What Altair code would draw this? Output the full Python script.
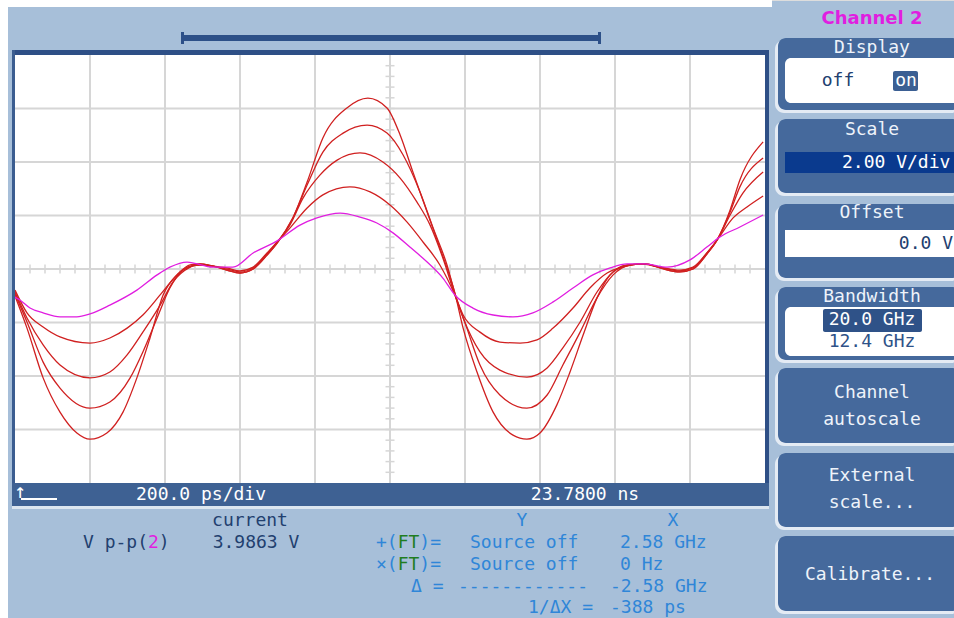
import altair as alt
import pandas as pd

# ---------------- data (time in ps from screen centre, volts) --------
T_CH2 = [-1000, -987, -960, -925, -880, -835, -800, -747, -675, -621, -587, -541, -472, -419, -365,
         -301, -240, -195, -133, -80, -35, 8, 53, 99, 141, 173, 221, 275, 328, 381, 435, 488, 541,
         587, 632, 680, 739, 800, 845, 880, 933, 995]
V_CH2 = [-1.05, -1.16, -1.46, -1.64, -1.79, -1.79, -1.68, -1.35, -0.79, -0.22, 0.07, 0.26, 0.07, 0.07,
         0.60, 1.05, 1.64, 1.91, 2.09, 1.94, 1.72, 1.35, 0.82, 0.26, -0.34, -0.97, -1.46, -1.72, -1.79,
         -1.64, -1.23, -0.71, -0.22, 0.04, 0.19, 0.19, 0.07, 0.34, 0.82, 1.20, 1.57, 2.02]

T_R1 = [-1000, -968, -925, -880, -800, -747, -701, -659, -613, -568, -533, -507, -472, -435, -400, -365,
        -328, -301, -267, -221, -179, -107, -53, 0, 45, 88, 133, 173, 195, 240, 293, 347, 392, 435, 488,
        533, 579, 621, 667, 720, 773, 808, 845, 872, 915, 952, 995]
V_R1 = [-0.79, -1.64, -2.17, -2.54, -2.77, -2.58, -2.21, -1.72, -0.97, -0.22, 0.15, 0.19, 0.11, 0.04,
        -0.07, 0.07, 0.60, 1.01, 1.53, 2.28, 2.77, 3.07, 2.88, 2.39, 1.76, 1.01, 0.15, -0.97, -1.72,
        -2.36, -2.73, -2.77, -2.65, -2.21, -1.46, -0.71, -0.15, 0.07, 0.19, 0.07, -0.04, 0.07, 0.60,
        1.08, 1.91, 2.32, 2.73]

T_R2 = [-1000, -968, -925, -880, -800, -747, -701, -659, -613, -579, -533, -507, -472, -435, -400, -365,
        -328, -301, -267, -232, -187, -141, -80, -19, 27, 72, 107, 141, 173, 195, 240, 293, 365, 419,
        461, 507, 552, 595, 640, 680, 720, 773, 808, 845, 872, 907, 941, 995]
V_R2 = [-0.86, -1.83, -2.84, -3.59, -4.07, -3.85, -3.21, -2.36, -1.35, -0.49, 0.07, 0.19, 0.11, 0.0,
        -0.11, 0.04, 0.56, 1.01, 1.64, 2.65, 3.51, 4.07, 4.34, 4.00, 3.40, 2.50, 1.64, 0.41, -0.97,
        -1.83, -3.10, -3.78, -4.04, -3.70, -2.95, -1.98, -0.86, -0.11, 0.15, 0.19, 0.07, -0.07, 0.04,
        0.60, 1.08, 2.02, 2.84, 3.63]

T_R3 = [-1000, -968, -925, -880, -800, -747, -693, -659, -621, -587, -552, -507, -472, -435, -400, -365,
        -328, -301, -259, -221, -179, -125, -61, -8, 35, 80, 115, 152, 173, 205, 240, 293, 365, 419,
        461, 507, 552, 595, 640, 680, 720, 773, 808, 845, 872, 907, 933, 995]
V_R3 = [-0.93, -1.98, -3.48, -4.45, -5.20, -4.97, -4.07, -3.10, -1.83, -0.71, -0.04, 0.15, 0.11, -0.04,
        -0.15, 0.0, 0.52, 0.97, 1.91, 3.14, 4.37, 5.08, 5.38, 5.08, 4.26, 2.88, 1.53, 0.15, -0.90,
        -2.21, -3.59, -4.71, -5.20, -4.71, -3.59, -2.36, -1.08, -0.22, 0.15, 0.19, 0.04, -0.11, 0.0,
        0.56, 1.08, 2.13, 3.07, 4.15]

T_R4 = [-1000, -968, -925, -880, -835, -800, -755, -712, -675, -640, -605, -568, -533, -507, -472, -435,
        -400, -365, -328, -301, -259, -221, -179, -115, -59, -8, 27, 61, 99, 133, 173, 195, 232, 275,
        328, 365, 400, 445, 480, 515, 552, 587, 632, 680, 720, 773, 808, 845, 872, 907, 933, 995]
V_R4 = [-1.01, -2.21, -4.07, -5.35, -6.13, -6.36, -6.13, -5.35, -4.07, -2.58, -0.97, -0.22, 0.11, 0.15,
        0.11, -0.04, -0.15, 0.0, 0.52, 0.97, 1.91, 3.25, 4.90, 6.02, 6.39, 6.02, 5.01, 3.63, 2.13, 0.79,
        -0.90, -2.21, -3.85, -5.35, -6.21, -6.36, -6.13, -5.08, -3.85, -2.47, -1.08, -0.22, 0.15, 0.19,
        0.04, -0.11, 0.0, 0.56, 1.08, 2.21, 3.33, 4.75]

GRID_T = [-800, -600, -400, -200, 0, 200, 400, 600, 800]      # ps (200 ps/div)
GRID_V = [-6, -4, -2, 0, 2, 4, 6]                             # V (2.00 V/div)
MINOR_T = [t for t in range(-960, 1000, 40)]
MINOR_V = [round(-7.6 + 0.4 * i, 2) for i in range(39)]

BUTTONS = ["Display", "Scale", "Offset", "Bandwidth", ["Channel", "autoscale"],
           ["External", "scale..."], "Calibrate..."]

# ---------------- styles -------------------------------------------------------------------
MONO = "DejaVu Sans Mono"
BG = "#a7bfd9"
NAVY = "#2e4f86"
BAR = "#3e6193"
BTN = "#45699c"
BTN_TXT = "#eef3fa"
DARK_TXT = "#22406f"
CUR_TXT = "#2f86d8"
GREEN = "#1f7d1f"
MAGENTA = "#e01ee0"
RED = "#d02020"
GRID = "#d6d6d6"
FS = 18
CW = 0.602 * FS

xs = alt.Scale(domain=[-1000, 1000], range=[15, 765], nice=False, zero=False)
ys = alt.Scale(domain=[-8, 8], range=[483, 55], nice=False, zero=False)

one = pd.DataFrame({"k": [0]})


def box(x, x2, y, y2, color, r=0):
    return alt.Chart(one).mark_rect(color=color, cornerRadius=r).encode(
        x=alt.value(x), x2=alt.value(x2), y=alt.value(y), y2=alt.value(y2))


def txt(s, x, y, color, size=FS, align="center", weight="normal", font=MONO):
    return alt.Chart(one).mark_text(align=align, baseline="middle", font=font, fontSize=size,
                                    fontWeight=weight, color=color).encode(
        x=alt.value(x), y=alt.value(y), text=alt.value(s))


layers = []
# screen background
layers += [box(0, 772, 0, 7, "white"), box(0, 8, 0, 618, "white")]
# plot area
layers.append(box(15, 765, 55, 483, "white"))

gv = pd.DataFrame({"t": GRID_T, "lo": -8, "hi": 8})
gh = pd.DataFrame({"v": GRID_V, "lo": -1000, "hi": 1000})
layers.append(alt.Chart(gv).mark_rule(color=GRID, strokeWidth=2).encode(
    x=alt.X("t:Q", scale=xs, axis=None), y=alt.Y("lo:Q", scale=ys, axis=None), y2="hi:Q"))
layers.append(alt.Chart(gh).mark_rule(color=GRID, strokeWidth=2).encode(
    y=alt.Y("v:Q", scale=ys, axis=None), x=alt.X("lo:Q", scale=xs, axis=None), x2="hi:Q"))
mt = pd.DataFrame({"t": MINOR_T, "lo": -0.17, "hi": 0.17})
mv = pd.DataFrame({"v": MINOR_V, "lo": -12, "hi": 12})
layers.append(alt.Chart(mt).mark_rule(color=GRID, strokeWidth=1.5).encode(
    x=alt.X("t:Q", scale=xs, axis=None), y=alt.Y("lo:Q", scale=ys, axis=None), y2="hi:Q"))
layers.append(alt.Chart(mv).mark_rule(color=GRID, strokeWidth=1.5).encode(
    y=alt.Y("v:Q", scale=ys, axis=None), x=alt.X("lo:Q", scale=xs, axis=None), x2="hi:Q"))

# traces
assert len(T_R1) == len(V_R1) and len(T_R2) == len(V_R2)
assert len(T_R3) == len(V_R3) and len(T_R4) == len(V_R4) and len(T_CH2) == len(V_CH2)
red = pd.concat([pd.DataFrame({"t": T, "v": V, "trace": name}) for T, V, name in
                 [(T_R1, V_R1, "r1"), (T_R2, V_R2, "r2"), (T_R3, V_R3, "r3"), (T_R4, V_R4, "r4")]])
mag = pd.DataFrame({"t": T_CH2, "v": V_CH2, "trace": "ch2"})
layers.append(alt.Chart(red).mark_line(color=RED, strokeWidth=1.3, interpolate="monotone").encode(
    x=alt.X("t:Q", scale=xs, axis=None), y=alt.Y("v:Q", scale=ys, axis=None), detail="trace:N"))
layers.append(alt.Chart(mag).mark_line(color=MAGENTA, strokeWidth=1.3, interpolate="monotone").encode(
    x=alt.X("t:Q", scale=xs, axis=None), y=alt.Y("v:Q", scale=ys, axis=None)))

# frame, scroll bar and bottom bar
layers += [
    box(12, 769, 50, 55, NAVY), box(12, 15, 50, 506, "#3b5d90"), box(765, 769, 50, 506, NAVY),
    box(12, 769, 483, 506, BAR), box(12, 769, 506, 509, "#dce6f0"),
    box(182, 600, 35, 41, "#2d5088"), box(181, 184, 32, 44, "#2d5088"), box(598, 601, 32, 44, "#2d5088"),
    box(21, 57, 498, 500, "white"),
]
layers += [
    txt("↑", 20, 492, "white", size=20),
    txt("200.0 ps/div", 201, 495, "white"),
    txt("23.7800 ns", 585, 495, "white"),
]

# measurement area
x0 = 83
layers += [
    txt("current", 250, 521, DARK_TXT),
    txt("V p-p(", x0, 543, DARK_TXT, align="left"),
    txt("2", x0 + 6 * CW, 543, MAGENTA, align="left"),
    txt(")", x0 + 7 * CW, 543, DARK_TXT, align="left"),
    txt("3.9863 V", 256, 543, DARK_TXT),
    txt("Y", 522, 521, CUR_TXT), txt("X", 673, 521, CUR_TXT),
]
for row_y, sym, ytext, xtext in [(543, "+", "Source off", "2.58 GHz"), (565, "×", "Source off", "0 Hz")]:
    c0 = 376
    layers += [
        txt(sym + "(", c0, row_y, CUR_TXT, align="left"),
        txt("FT", c0 + 2 * CW, row_y, GREEN, align="left"),
        txt(")=", c0 + 4 * CW, row_y, CUR_TXT, align="left"),
        txt(ytext, 470, row_y, CUR_TXT, align="left"),
        txt(xtext, 620, row_y, CUR_TXT, align="left"),
    ]
layers += [
    txt("Δ =", 411, 587, CUR_TXT, align="left"),
    txt("-" * 12, 458, 587, CUR_TXT, align="left"),
    txt("-2.58 GHz", 610, 587, CUR_TXT, align="left"),
    txt("1/ΔX =", 528, 608, CUR_TXT, align="left"),
    txt("-388 ps", 610, 608, CUR_TXT, align="left"),
]

# right-hand soft-key panel
spans = [(38, 110), (119, 193), (204, 278), (287, 360), (368, 443), (453, 527), (536, 611)]
for top, bot in spans:
    layers.append(box(775, 960, top + 2, bot + 3, "#e4ebf4", r=9))
    layers.append(box(778, 960, top, bot, BTN, r=8))
layers += [
    txt("Channel 2", 872, 19, MAGENTA, size=18, weight="bold", font="DejaVu Sans"),
    txt(BUTTONS[0], 872, 48, BTN_TXT),
    box(785, 960, 58, 103, "white", r=6),
    txt("off", 838, 81, DARK_TXT),
    box(893, 918, 71, 91, "#3b5f93", r=2),
    txt("on", 906, 81, "white"),
    txt(BUTTONS[1], 872, 130, BTN_TXT),
    box(785, 960, 152, 173, "#0a3a8e"),
    txt("2.00 V/div", 842, 163, "white", align="left"),
    txt(BUTTONS[2], 872, 213, BTN_TXT),
    box(785, 960, 230, 257, "white"),
    txt("0.0 V", 953, 244, DARK_TXT, align="right"),
    txt(BUTTONS[3], 872, 297, BTN_TXT),
    box(785, 960, 307, 356, "white", r=6),
    box(823, 922, 309, 332, "#2f5288", r=2),
    txt("20.0 GHz", 872, 320, "white"),
    txt("12.4 GHz", 872, 342, "#2f5288"),
    txt(BUTTONS[4][0], 872, 393, BTN_TXT), txt(BUTTONS[4][1], 872, 420, BTN_TXT),
    txt(BUTTONS[5][0], 872, 476, BTN_TXT), txt(BUTTONS[5][1], 872, 503, BTN_TXT),
    txt(BUTTONS[6], 870, 575, BTN_TXT),
]

chart = alt.layer(*layers).properties(
    width=954, height=618, padding=0, autosize=alt.AutoSizeParams(type="none")
).configure_view(stroke=None).configure(background=BG)

chart.save("out.html", embed_options={"renderer": "svg", "actions": False})
